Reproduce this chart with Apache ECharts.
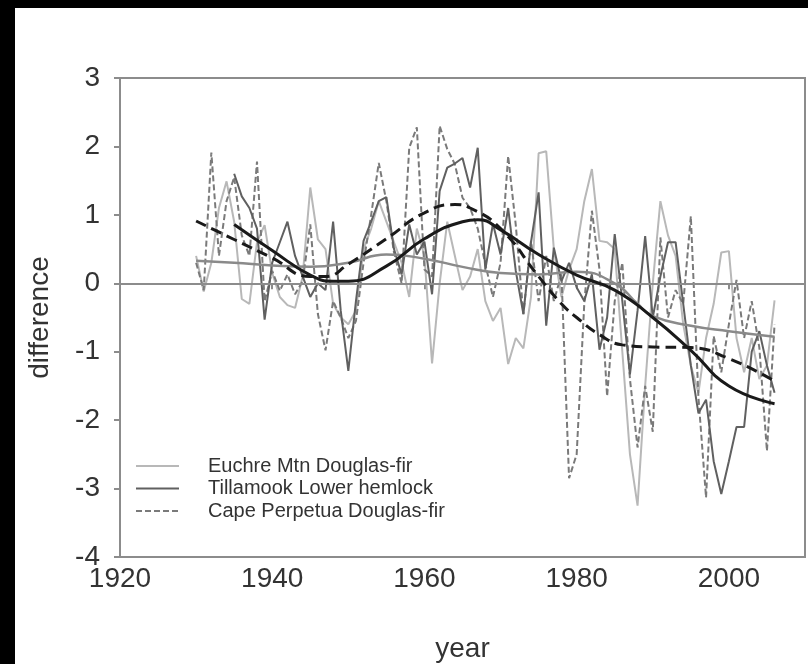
<!DOCTYPE html>
<html>
<head>
<meta charset="utf-8">
<script src="https://cdn.jsdelivr.net/npm/echarts@6/dist/echarts.min.js"></script>
<style>
  html, body { margin: 0; padding: 0; background: #000; }
  #chart { position: absolute; left: 15px; top: 8px; width: 793px; height: 656px; background: #fff; }
</style>
</head>
<body>
<div id="chart"></div>
<script>
// Ring-width differences by year, 1930-2006
const years = [];
for (let y = 1930; y <= 2006; y++) years.push(y);

const euchre = [
  0.40, -0.12, 0.30, 1.10, 1.49, 0.90, -0.23, -0.30, 0.60, 0.85,
  0.15, -0.20, -0.32, -0.36, 0.10, 1.40, 0.64, 0.50, -0.30, -0.50,
  -0.60, -0.40, 0.50, 0.80, 1.20, 0.90, 0.60, 0.30, -0.20, 0.80,
  0.40, -1.17, 0.00, 0.90, 0.40, -0.10, 0.10, 0.50, -0.26, -0.55,
  -0.36, -1.18, -0.80, -0.95, -0.20, 1.90, 1.93, 0.50, -0.20, 0.20,
  0.50, 1.20, 1.67, 0.62, 0.60, 0.50, -1.00, -2.50, -3.25, -1.50,
  0.00, 1.20, 0.70, 0.40, -0.60, -1.20, -1.60, -0.80, -0.30, 0.45,
  0.47, -0.80, -1.30, -0.80, -1.40, -1.20, -0.25
];

// Tillamook record begins in 1935
const tillamook = [
  null, null, null, null, null, 1.60, 1.27, 1.10, 0.80, -0.53,
  0.30, 0.60, 0.90, 0.40, 0.10, -0.20, 0.00, -0.10, 0.90, -0.40,
  -1.28, -0.26, 0.62, 0.90, 1.20, 1.26, 0.50, 0.13, 0.86, 0.42,
  0.61, -0.16, 1.35, 1.69, 1.75, 1.83, 1.40, 1.98, 0.20, 0.87,
  0.42, 1.10, 0.18, -0.45, 0.60, 1.33, -0.62, 0.52, 0.03, 0.30,
  -0.06, -0.26, 0.13, -0.97, -0.50, 0.72, -0.26, -1.33, -0.40, 0.69,
  -0.50, 0.10, 0.60, 0.60, -0.30, -1.20, -1.90, -1.70, -2.60, -3.08,
  -2.60, -2.10, -2.10, -1.00, -0.70, -1.20, -1.60
];

const cape = [
  0.30, -0.10, 1.91, 0.40, 1.20, 1.55, 0.70, 0.40, 1.78, -0.26,
  0.18, -0.11, 0.13, -0.16, 0.03, 0.86, -0.45, -0.98, -0.26, -0.50,
  -0.80, -0.55, 0.30, 1.00, 1.76, 1.20, 0.45, 0.00, 1.98, 2.28,
  0.20, 0.10, 2.30, 1.96, 1.74, 1.25, 1.10, 0.80, 0.28, -0.20,
  0.30, 1.86, 0.85, -0.45, 0.62, -0.26, 0.40, -0.26, 0.13, -2.85,
  -2.50, -0.30, 1.06, 0.20, -1.65, -0.26, 0.30, -1.40, -2.40, -1.50,
  -2.17, 0.67, -0.50, -0.10, -0.30, 0.98, -1.67, -3.13, -0.77, -1.30,
  -0.60, 0.05, -0.80, -0.26, -0.94, -2.45, -0.60
];

// Smoothed trends (knot years and values)
const euchreFitYears = [1930, 1935, 1940, 1945, 1950, 1955, 1960, 1965, 1970, 1975, 1980, 1985, 1988, 1990, 1995, 2000, 2006];
const euchreFit      = [0.33, 0.30, 0.26, 0.24, 0.30, 0.42, 0.36, 0.24, 0.15, 0.13, 0.17, 0.00, -0.30, -0.48, -0.62, -0.70, -0.78];

const tillamookFitYears = [1935, 1940, 1945, 1948, 1950, 1955, 1960, 1965, 1967, 1970, 1975, 1980, 1985, 1990, 1995, 2000, 2006];
const tillamookFit      = [0.86, 0.48, 0.12, 0.03, 0.03, 0.25, 0.65, 0.90, 0.93, 0.78, 0.42, 0.12, -0.10, -0.50, -0.98, -1.50, -1.76];

const capeFitYears = [1930, 1935, 1940, 1945, 1947, 1950, 1955, 1960, 1964, 1966, 1970, 1975, 1978, 1980, 1983, 1986, 1990, 1995, 2000, 2006];
const capeFit      = [0.91, 0.64, 0.37, 0.10, 0.10, 0.28, 0.65, 1.03, 1.15, 1.10, 0.80, 0.10, -0.30, -0.50, -0.75, -0.90, -0.93, -0.94, -1.10, -1.43];

const yTicks = [-4, -3, -2, -1, 0, 1, 2, 3];

const names = ['Euchre Mtn Douglas-fir', 'Tillamook Lower hemlock', 'Cape Perpetua Douglas-fir'];

const pair = (xs, vs) => xs.map((x, i) => [x, vs[i]]);

const FONT = 'Liberation Sans, Arial, sans-serif';
const AXIS_GRAY = '#8c8c8c';
const TEXT = '#333';

const chart = echarts.init(document.getElementById('chart'), null, { renderer: 'canvas' });

chart.setOption({
  animation: false,
  backgroundColor: '#fff',
  grid: {
    left: 105, right: 3, top: 70, bottom: 107,
    outerBoundsMode: 'none',
    containLabel: false,
    show: true, borderColor: AXIS_GRAY, borderWidth: 2
  },
  legend: {
    orient: 'vertical',
    left: 115, top: 443,
    itemWidth: 43, itemHeight: 12, itemGap: 2.5,
    data: names,
    itemStyle: { opacity: 0 },
    textStyle: { fontFamily: FONT, fontSize: 20, color: TEXT, padding: [0, 0, 0, 24] }
  },
  xAxis: {
    type: 'value', min: 1920, max: 2010, interval: 20,
    name: 'year', nameLocation: 'middle', nameGap: 78,
    nameTextStyle: { fontFamily: FONT, fontSize: 28, color: TEXT },
    axisLine: { show: true, lineStyle: { color: AXIS_GRAY, width: 2 } },
    axisTick: { show: true, length: 6, lineStyle: { color: AXIS_GRAY, width: 2 } },
    axisLabel: {
      fontFamily: FONT, fontSize: 28, color: TEXT, margin: 8,
      showMaxLabel: false,
      formatter: v => String(v)
    },
    splitLine: { show: false }
  },
  yAxis: {
    type: 'value', min: -4, max: 3, interval: 1,
    name: 'difference', nameLocation: 'middle', nameGap: 66,
    nameTextStyle: { fontFamily: FONT, fontSize: 28, color: TEXT },
    axisLine: { show: true, lineStyle: { color: AXIS_GRAY, width: 2 } },
    axisTick: { show: true, length: 6, lineStyle: { color: AXIS_GRAY, width: 2 } },
    axisLabel: {
      fontFamily: FONT, fontSize: 28, color: TEXT, margin: 20,
      formatter: v => (yTicks.indexOf(v) >= 0 ? String(v) : '')
    },
    splitLine: { show: false }
  },
  series: [
    {
      name: names[0], type: 'line', data: pair(years, euchre),
      symbol: 'none', z: 2,
      lineStyle: { color: '#b8b8b8', width: 2 },
      itemStyle: { color: '#b8b8b8' },
      markLine: {
        silent: true, symbol: 'none', label: { show: false },
        lineStyle: { color: AXIS_GRAY, width: 2, type: 'solid' },
        data: [{ yAxis: 0 }]
      }
    },
    {
      name: names[2], type: 'line', data: pair(years, cape),
      symbol: 'none', z: 3,
      lineStyle: { color: '#7a7a7a', width: 2, type: [6, 3] },
      itemStyle: { color: '#7a7a7a' }
    },
    {
      name: names[1], type: 'line', data: pair(years, tillamook),
      symbol: 'none', z: 4,
      lineStyle: { color: '#606060', width: 2 },
      itemStyle: { color: '#606060' }
    },
    {
      name: 'euchre-fit', type: 'line', data: pair(euchreFitYears, euchreFit),
      symbol: 'none', smooth: 0.5, z: 5,
      lineStyle: { color: '#8a8a8a', width: 2.5 }
    },
    {
      name: 'cape-fit', type: 'line', data: pair(capeFitYears, capeFit),
      symbol: 'none', smooth: 0.5, z: 6,
      lineStyle: { color: '#1a1a1a', width: 3, type: [11, 6] }
    },
    {
      name: 'tillamook-fit', type: 'line', data: pair(tillamookFitYears, tillamookFit),
      symbol: 'none', smooth: 0.5, z: 7,
      lineStyle: { color: '#1a1a1a', width: 3 }
    }
  ]
});
</script>
</body>
</html>
